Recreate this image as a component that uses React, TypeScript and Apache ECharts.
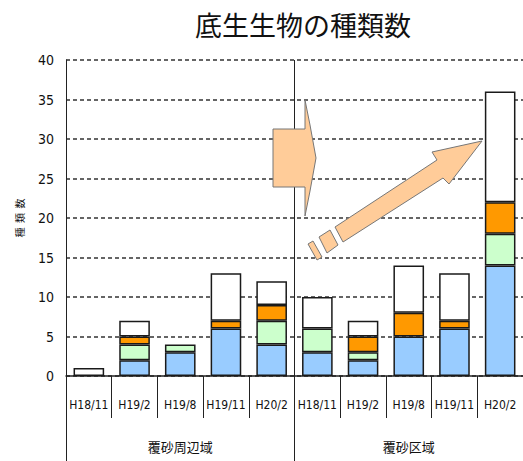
import React, { useEffect, useRef } from "react";
import * as echarts from "echarts";

const categories = ["H18/11", "H19/2", "H19/8", "H19/11", "H20/2", "H18/11", "H19/2", "H19/8", "H19/11", "H20/2"];
const groups = ["覆砂周辺域", "覆砂区域"];
const blueValues = [0, 2, 3, 6, 4, 3, 2, 5, 6, 14];
const greenValues = [0, 2, 1, 0, 3, 3, 1, 0, 0, 4];
const orangeValues = [0, 1, 0, 1, 2, 0, 2, 3, 1, 4];
const whiteValues = [1, 2, 0, 6, 3, 4, 2, 6, 6, 14];

const NARROW = "'Liberation Sans Narrow', 'DejaVu Sans Condensed', 'Arial Narrow', 'Liberation Sans', sans-serif";
const CJK = "'Noto Sans CJK JP', 'Noto Sans', sans-serif";

const toBar = (arr: number[]) => arr.map((v) => (v === 0 ? null : v));

export default function App() {
  const ref = useRef<HTMLDivElement>(null);
  useEffect(() => {
    if (!ref.current) return;
    const chart = echarts.init(ref.current, null, { renderer: "svg" });
    const seg = (name: string, data: number[], color: string) => ({
      name,
      type: "bar",
      stack: "total",
      xAxisIndex: 0,
      barWidth: "67%",
      data: toBar(data),
      itemStyle: { color, borderColor: "#1a1a1a", borderWidth: 1.5 },
    });
    chart.setOption({
      animation: false,
      backgroundColor: "#ffffff",
      title: {
        text: "底生生物の種類数",
        left: 190,
        top: 6,
        textStyle: { fontFamily: CJK, fontSize: 27, fontWeight: "normal", color: "#111" },
      },
      grid: { left: 66, top: 60, width: 460, height: 316, containLabel: false },
      xAxis: [
        {
          type: "category",
          data: categories,
          position: "bottom",
          axisLine: { show: true, lineStyle: { color: "#222", width: 1.5 } },
          axisTick: { show: true, alignWithLabel: false, interval: 0, length: 42, lineStyle: { color: "#222", width: 1 } },
          axisLabel: { interval: 0, margin: 23, fontSize: 12, fontFamily: NARROW, color: "#111" },
          splitLine: { show: false },
        },
        {
          type: "category",
          data: groups,
          position: "bottom",
          axisLine: { show: false },
          axisTick: { show: true, alignWithLabel: false, interval: 0, length: 85, lineStyle: { color: "#222", width: 1 } },
          axisLabel: { interval: 0, margin: 64, fontSize: 13, fontFamily: CJK, color: "#111" },
          splitLine: { show: true, lineStyle: { color: "#222", width: 1, type: "solid" } },
        },
      ],
      yAxis: {
        type: "value",
        min: 0,
        max: 40,
        interval: 5,
        name: "種  類  数",
        nameLocation: "middle",
        nameRotate: 90,
        nameGap: 42,
        nameTextStyle: { fontFamily: CJK, fontSize: 10, color: "#111" },
        axisLine: { show: true, lineStyle: { color: "#222", width: 1 } },
        axisTick: { show: false },
        axisLabel: { margin: 12, fontSize: 14, fontFamily: NARROW, color: "#111" },
        splitLine: { show: true, lineStyle: { color: "#333", width: 1.5, type: [4, 3] } },
      },
      series: [
        seg("blue", blueValues, "#99CCFF"),
        seg("green", greenValues, "#CCFFCC"),
        seg("orange", orangeValues, "#FF9900"),
        seg("white", whiteValues, "#FFFFFF"),
      ],
      graphic: [
        {
          type: "polygon",
          z: 100,
          shape: {
            points: [[273, 129], [305, 129], [305, 100], [310, 125], [316, 158], [310, 191], [305, 216], [305, 187], [273, 187]],
          },
          style: { fill: "#FFCC99", stroke: "#777", lineWidth: 1 },
        },
        {
          type: "polygon",
          z: 100,
          shape: {
            points: [[343, 242], [443, 178], [449, 184], [482, 141], [432, 152], [437, 160], [335, 227]],
          },
          style: { fill: "#FFCC99", stroke: "#777", lineWidth: 1 },
        },
        {
          type: "polygon",
          z: 100,
          shape: { points: [[319, 237], [330, 230], [338, 245], [327, 253]] },
          style: { fill: "#FFCC99", stroke: "#777", lineWidth: 1 },
        },
        {
          type: "polygon",
          z: 100,
          shape: { points: [[308, 244], [313, 241], [322, 257], [317, 260]] },
          style: { fill: "#FFCC99", stroke: "#777", lineWidth: 1 },
        },
      ],
    });
    return () => chart.dispose();
  }, []);
  return <div ref={ref} style={{ position: "absolute", left: 0, top: 0, width: 523, height: 461 }} />;
}
